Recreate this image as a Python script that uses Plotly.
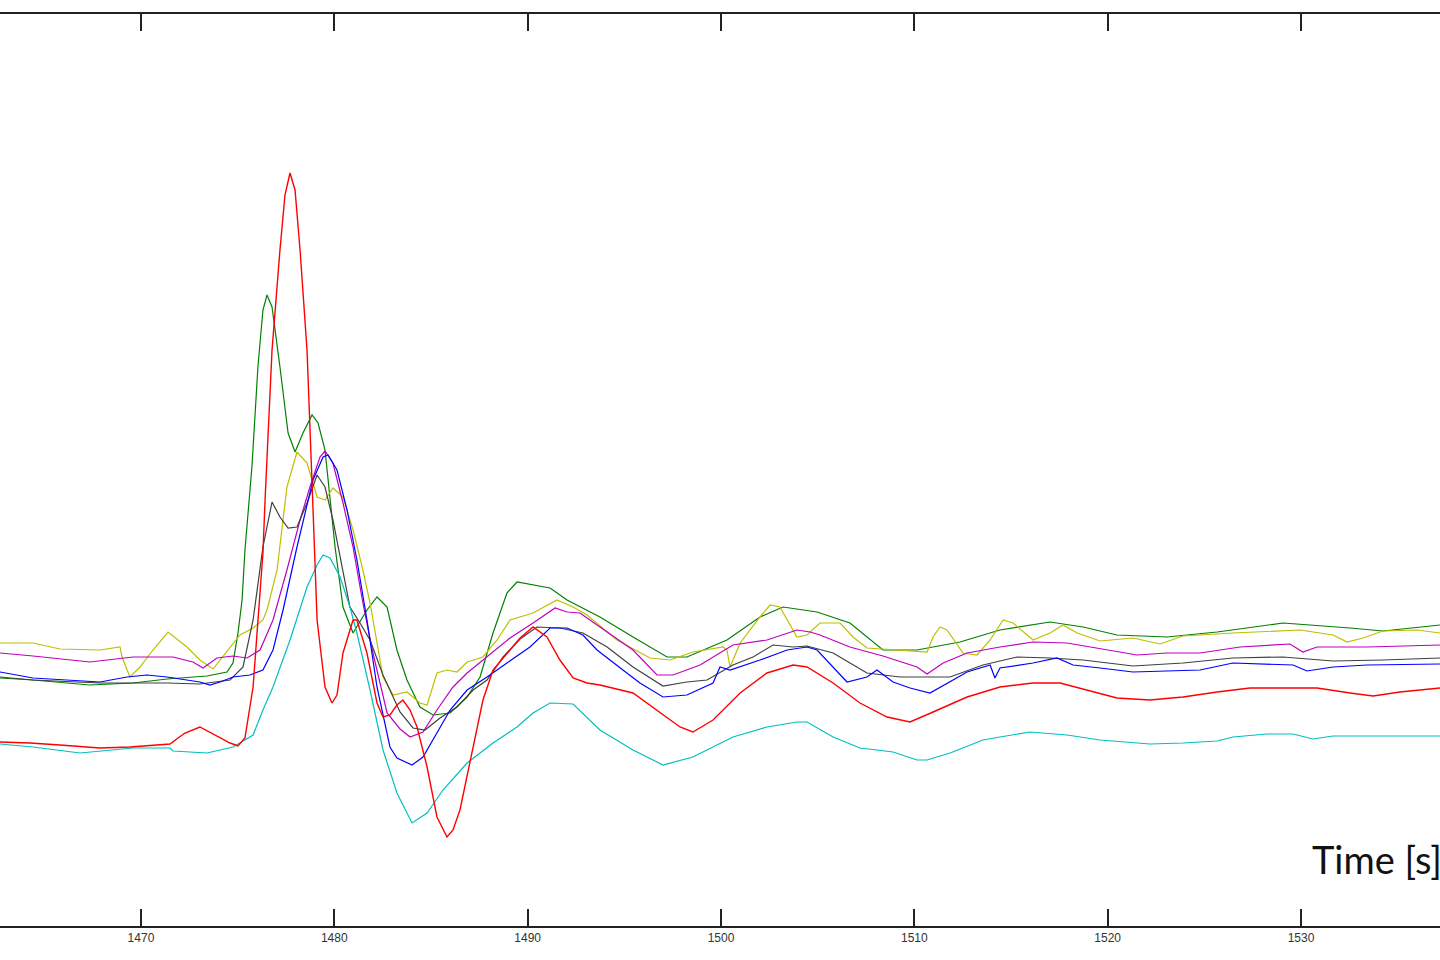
import plotly.graph_objects as go

# Time [s] and signal values (arbitrary units)
red_t = [1462.71,1464.26,1465.81,1467.88,1469.43,1471.50,1471.92,1472.28,1473.05,1473.83,1474.61,1475.02,1475.38,1475.80,1476.31,1476.42,1476.78,1477.19,1477.45,1477.71,1477.97,1478.23,1478.59,1478.85,1479.11,1479.52,1479.88,1480.14,1480.45,1480.97,1481.17,1481.69,1482.21,1482.52,1482.88,1483.24,1483.55,1483.92,1484.28,1484.80,1485.31,1485.83,1486.14,1486.50,1487.02,1487.69,1488.21,1488.93,1489.61,1490.28,1491.00,1491.67,1492.35,1493.07,1493.74,1495.45,1496.85,1497.88,1498.55,1499.59,1500.99,1502.38,1503.73,1504.45,1505.80,1507.19,1508.59,1509.78,1510.97,1512.73,1514.43,1516.14,1517.54,1518.93,1520.48,1522.19,1523.90,1525.66,1527.36,1529.07,1530.83,1532.54,1533.73,1535.12,1537.19]
red_v = [1.84,1.83,1.81,1.78,1.79,1.82,1.88,1.93,1.99,1.91,1.83,1.80,1.88,2.39,3.73,4.26,5.76,6.76,7.31,7.53,7.36,6.76,5.76,4.43,3.06,2.39,2.23,2.31,2.73,3.06,3.06,2.73,2.23,2.09,2.11,2.21,2.26,2.16,1.99,1.59,1.09,0.89,0.96,1.16,1.63,2.26,2.56,2.73,2.88,2.99,2.89,2.66,2.48,2.43,2.41,2.33,2.13,1.99,1.94,2.06,2.33,2.53,2.61,2.59,2.43,2.23,2.09,2.04,2.14,2.29,2.39,2.43,2.43,2.36,2.28,2.26,2.29,2.34,2.38,2.38,2.38,2.33,2.30,2.34,2.38]

cyan_t = [1462.71,1464.42,1466.85,1467.88,1469.59,1471.50,1471.66,1473.42,1474.76,1475.80,1476.31,1476.83,1477.71,1478.59,1479.11,1479.42,1479.78,1480.30,1480.81,1481.17,1481.85,1482.52,1483.24,1484.02,1484.80,1485.62,1486.87,1488.21,1489.45,1490.28,1491.16,1492.35,1493.23,1493.74,1495.45,1497.00,1498.55,1500.62,1502.38,1503.93,1504.45,1505.80,1507.19,1508.90,1510.14,1510.66,1511.85,1513.55,1514.43,1515.98,1517.90,1519.61,1522.19,1523.90,1525.66,1526.48,1528.24,1529.59,1530.62,1531.66,1534.24,1537.19]
cyan_v = [1.82,1.79,1.73,1.75,1.78,1.78,1.75,1.73,1.79,1.91,2.16,2.39,2.86,3.39,3.61,3.71,3.68,3.49,3.19,2.93,2.36,1.76,1.33,1.03,1.13,1.36,1.63,1.83,1.99,2.13,2.23,2.22,2.06,1.96,1.76,1.61,1.69,1.89,1.99,2.04,2.04,1.89,1.78,1.74,1.66,1.66,1.73,1.86,1.89,1.94,1.91,1.86,1.82,1.83,1.85,1.89,1.92,1.92,1.87,1.90,1.90,1.90]

green_t = [1462.71,1464.42,1467.36,1469.59,1471.35,1473.42,1474.45,1474.76,1475.02,1475.23,1475.38,1475.74,1476.05,1476.31,1476.52,1476.78,1477.19,1477.61,1477.97,1478.38,1478.85,1479.16,1479.52,1479.78,1480.04,1480.45,1480.97,1481.69,1482.21,1482.73,1483.24,1483.76,1484.43,1485.11,1485.99,1486.87,1487.54,1488.21,1488.93,1489.45,1490.28,1491.16,1492.04,1493.74,1495.45,1497.21,1498.24,1500.31,1502.02,1503.21,1504.97,1506.67,1508.38,1510.14,1512.36,1514.43,1517.02,1518.73,1520.48,1523.07,1525.66,1529.07,1532.54,1534.24,1537.19]
green_v = [2.48,2.46,2.41,2.43,2.47,2.50,2.54,2.63,2.93,3.26,3.76,4.59,5.59,6.16,6.31,6.19,5.59,4.93,4.74,4.93,5.11,5.03,4.76,4.26,3.79,3.19,2.93,3.16,3.29,3.19,2.76,2.46,2.19,2.11,2.13,2.29,2.49,2.93,3.33,3.44,3.41,3.38,3.26,3.09,2.89,2.69,2.69,2.86,3.09,3.19,3.14,3.03,2.76,2.76,2.84,2.96,3.04,2.99,2.91,2.89,2.94,3.03,2.98,2.95,3.01]

yellow_t = [1462.71,1464.42,1465.81,1467.88,1468.92,1469.02,1469.43,1469.95,1470.62,1471.40,1472.38,1473.05,1473.73,1474.45,1475.12,1475.80,1476.31,1476.52,1477.04,1477.55,1478.07,1478.59,1479.11,1479.52,1479.93,1480.45,1480.97,1481.48,1481.85,1482.52,1483.04,1483.76,1484.43,1484.80,1485.31,1485.83,1486.35,1486.87,1487.69,1488.42,1489.09,1490.28,1491.52,1492.35,1493.07,1494.62,1496.33,1497.37,1498.55,1500.11,1500.31,1500.47,1500.99,1502.02,1502.54,1503.05,1503.93,1504.45,1505.12,1506.16,1506.83,1507.55,1510.66,1510.97,1511.33,1511.69,1512.52,1513.24,1513.92,1514.59,1515.11,1516.14,1517.02,1517.69,1518.42,1519.61,1521.31,1522.71,1523.90,1526.48,1529.95,1531.66,1532.38,1533.21,1534.24,1535.99,1537.19]
yellow_v = [2.83,2.83,2.77,2.76,2.79,2.69,2.49,2.59,2.76,2.94,2.79,2.66,2.57,2.74,2.91,2.98,3.06,3.16,3.56,4.39,4.74,4.63,4.29,4.26,4.38,4.29,3.96,3.56,3.23,2.49,2.31,2.34,2.23,2.21,2.53,2.56,2.54,2.64,2.69,2.86,3.06,3.13,3.26,3.19,3.11,2.86,2.68,2.66,2.74,2.79,2.76,2.59,2.83,3.09,3.21,3.19,2.89,2.91,3.03,3.03,2.89,2.78,2.74,2.89,2.99,2.96,2.73,2.71,2.86,3.06,3.03,2.86,2.93,3.01,2.93,2.85,2.88,2.82,2.90,2.93,2.96,2.91,2.84,2.88,2.95,2.96,2.93]

magenta_t = [1462.71,1464.42,1467.36,1469.59,1471.66,1472.69,1473.21,1473.93,1474.76,1475.49,1476.16,1476.83,1477.55,1478.23,1478.74,1479.26,1479.52,1479.93,1480.45,1480.97,1481.48,1482.00,1482.73,1483.40,1483.92,1484.59,1485.31,1486.14,1486.87,1487.90,1489.09,1490.28,1491.42,1492.04,1492.71,1493.74,1495.45,1496.69,1497.52,1498.92,1500.62,1502.38,1503.93,1504.61,1505.12,1506.67,1508.38,1510.14,1510.66,1511.49,1512.73,1514.43,1516.14,1517.90,1519.61,1521.52,1523.07,1524.78,1526.85,1529.43,1530.10,1530.83,1533.42,1537.19]
magenta_v = [2.73,2.70,2.64,2.69,2.69,2.64,2.58,2.68,2.70,2.68,2.76,3.06,3.56,4.06,4.39,4.69,4.75,4.63,4.23,3.79,3.23,2.73,2.13,1.97,1.89,1.94,2.16,2.39,2.53,2.69,2.88,3.03,3.18,3.14,3.13,2.99,2.76,2.51,2.51,2.61,2.81,2.86,2.96,2.94,2.91,2.79,2.70,2.59,2.52,2.63,2.73,2.79,2.84,2.83,2.77,2.71,2.73,2.73,2.79,2.82,2.74,2.79,2.79,2.81]

blue_t = [1462.71,1464.42,1467.88,1469.28,1470.31,1471.35,1473.05,1473.57,1474.09,1474.76,1475.64,1476.31,1476.83,1477.35,1478.07,1478.59,1478.90,1479.42,1479.68,1480.14,1480.66,1481.17,1481.69,1482.21,1482.88,1483.24,1484.02,1484.59,1485.31,1485.99,1486.87,1487.90,1488.93,1490.12,1491.16,1492.04,1492.86,1493.59,1494.93,1495.81,1497.00,1498.24,1499.59,1499.95,1500.47,1502.02,1503.42,1504.45,1504.97,1505.80,1506.52,1507.55,1508.07,1508.90,1509.78,1510.81,1511.69,1512.73,1513.92,1514.17,1514.43,1516.14,1517.38,1518.21,1519.61,1521.31,1524.78,1526.48,1529.59,1530.31,1531.66,1533.42,1537.19]
blue_v = [2.54,2.48,2.44,2.49,2.51,2.49,2.44,2.41,2.44,2.49,2.51,2.56,2.76,3.16,3.79,4.23,4.46,4.69,4.71,4.56,4.16,3.66,3.06,2.39,1.79,1.68,1.61,1.69,1.93,2.16,2.36,2.49,2.63,2.79,2.98,2.98,2.91,2.76,2.56,2.43,2.29,2.31,2.43,2.59,2.56,2.66,2.76,2.79,2.76,2.59,2.44,2.49,2.56,2.44,2.38,2.33,2.43,2.54,2.61,2.48,2.58,2.63,2.68,2.61,2.58,2.54,2.56,2.63,2.61,2.55,2.59,2.61,2.62]

black_t = [1462.71,1464.42,1467.88,1471.35,1473.05,1474.61,1475.28,1475.64,1475.80,1476.31,1476.78,1477.19,1477.61,1478.07,1478.59,1479.11,1479.52,1479.93,1480.45,1480.81,1481.33,1481.85,1482.52,1483.40,1484.07,1484.69,1485.47,1486.35,1487.18,1487.90,1488.73,1489.61,1490.48,1491.67,1492.86,1494.11,1495.45,1497.00,1498.24,1499.28,1500.62,1501.66,1502.69,1503.73,1504.45,1505.80,1507.55,1509.26,1511.85,1513.55,1515.31,1517.02,1518.73,1521.31,1523.90,1526.48,1529.07,1531.66,1534.24,1537.19]
black_v = [2.49,2.46,2.43,2.43,2.42,2.46,2.59,2.93,3.06,3.79,4.24,4.09,3.98,3.99,4.23,4.51,4.39,4.06,3.56,3.19,3.03,2.86,2.51,2.14,1.98,1.96,2.08,2.19,2.36,2.46,2.69,2.87,2.99,2.98,2.93,2.79,2.59,2.40,2.44,2.46,2.61,2.69,2.81,2.79,2.80,2.73,2.53,2.49,2.49,2.61,2.69,2.68,2.66,2.60,2.63,2.68,2.69,2.65,2.66,2.68]

x_ticks = [1470, 1480, 1490, 1500, 1510, 1520, 1530]
x_range = [1462.71, 1537.19]
y_range = [0, 9.12]

series = [
    (green_t, green_v, "#008000", 1.2),
    (yellow_t, yellow_v, "#BFBF00", 1.2),
    (magenta_t, magenta_v, "#BF00BF", 1.2),
    (black_t, black_v, "#404040", 1.2),
    (blue_t, blue_v, "#0000FF", 1.2),
    (cyan_t, cyan_v, "#00BFBF", 1.2),
    (red_t, red_v, "#FF0000", 1.4),
]

fig = go.Figure()
for t, v, c, w in series:
    fig.add_trace(go.Scatter(x=t, y=v, mode="lines", line=dict(color=c, width=w),
                             showlegend=False, hoverinfo="skip"))

fig.update_layout(
    width=1440, height=960,
    margin=dict(l=0, r=0, t=14, b=34),
    paper_bgcolor="white", plot_bgcolor="white",
    hovermode=False,
    xaxis=dict(range=x_range, tickvals=x_ticks, ticktext=[str(v) for v in x_ticks],
               ticks="inside", ticklen=17, tickwidth=1.5, tickcolor="#222",
               showline=True, linecolor="#222", linewidth=1.8, mirror="ticks",
               showgrid=False, zeroline=False,
               tickfont=dict(family="Liberation Sans, Arial", size=12, color="#333")),
    yaxis=dict(range=y_range, visible=False, showgrid=False, zeroline=False),
    annotations=[dict(text="Time [s]", xref="paper", yref="paper", x=1310/1440, y=0.0735,
                      xanchor="left", yanchor="middle", showarrow=False,
                      font=dict(family="Lato", size=38, color="#111"))],
)

fig.write_html("out.html", config={"displayModeBar": False},
               post_script="document.body.style.margin='0px';document.body.style.padding='0px';document.body.style.overflow='hidden';")
